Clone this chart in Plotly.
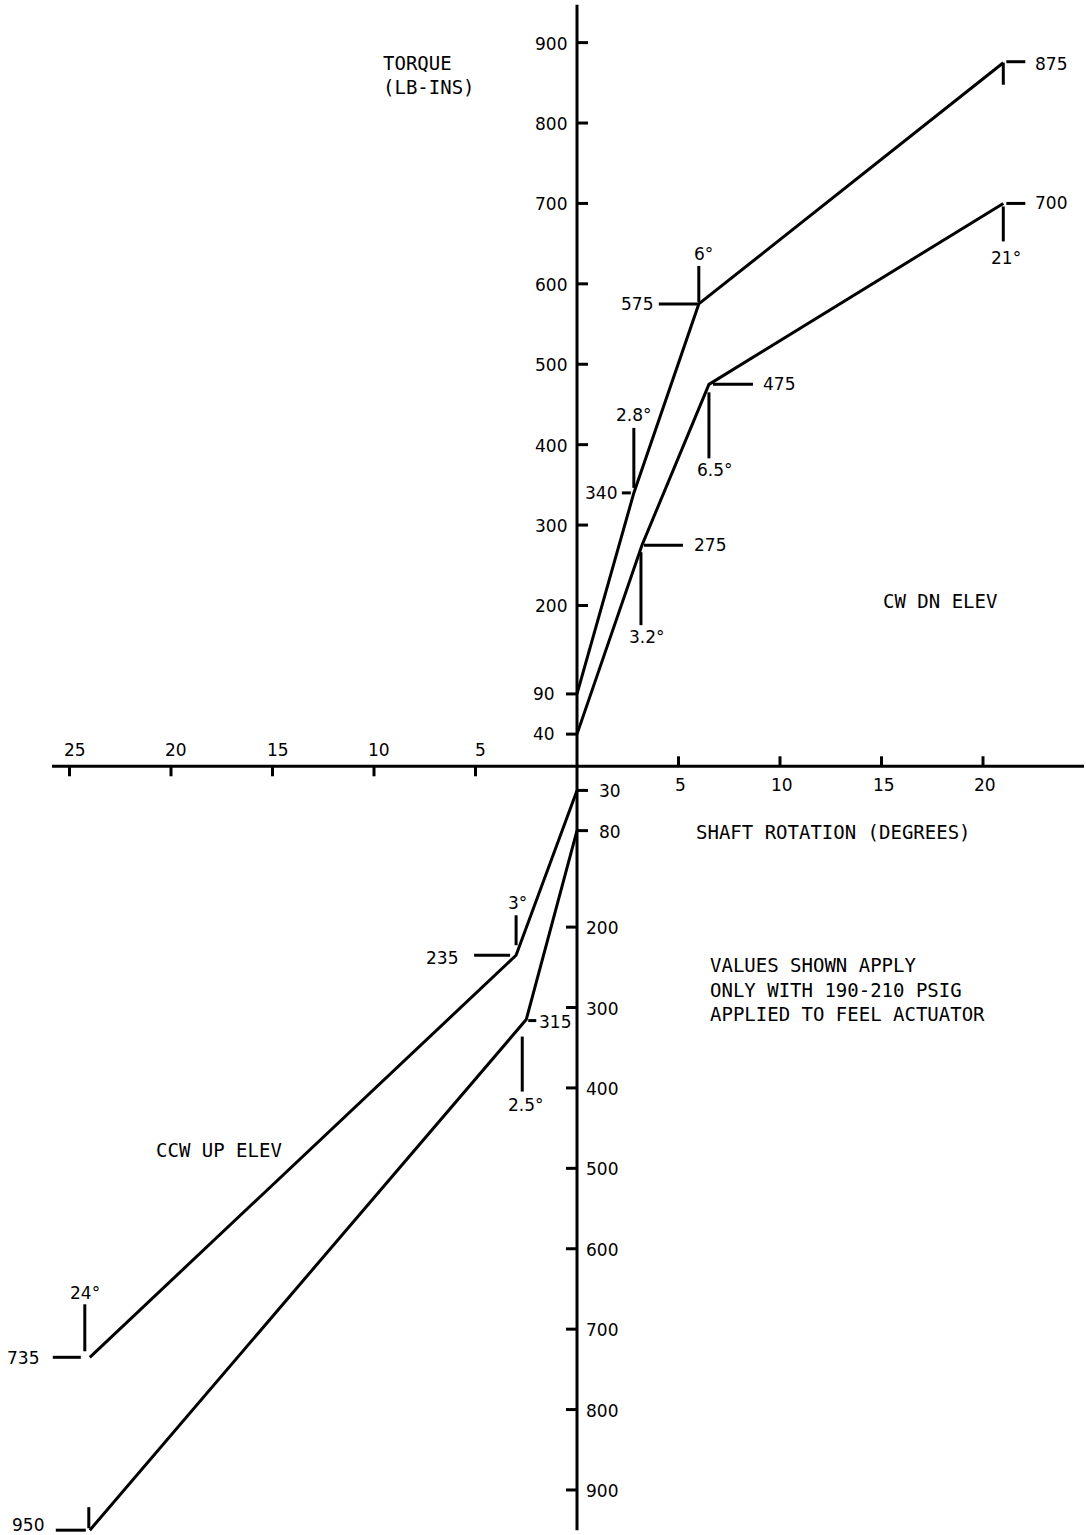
import plotly.graph_objects as go

# ---------------- data ----------------
# CW DN ELEV (upper right quadrant)
cw_a_deg = [0, 2.8, 6, 21]
cw_a_torque = [90, 340, 575, 875]
cw_b_deg = [0, 3.2, 6.5, 21]
cw_b_torque = [40, 275, 475, 700]
# CCW UP ELEV (lower left quadrant) - magnitudes
ccw_a_deg = [0, 3, 24]
ccw_a_torque = [30, 235, 735]
ccw_b_deg = [0, 2.5, 24]
ccw_b_torque = [80, 315, 950]

# tick values
x_ticks_left = [25, 20, 15, 10, 5]
x_ticks_right = [5, 10, 15, 20]
y_ticks_up_right = [900, 800, 700, 600, 500, 400, 300, 200]
y_ticks_up_left = [90, 40]
y_ticks_dn_right = [30, 80]
y_ticks_dn_left = [200, 300, 400, 500, 600, 700, 800, 900]

# ---------------- styling ----------------
W, H = 1086, 1535
XR = [-577 / 20.3, (W - 577) / 20.3]
YR = [-956, 953]
BLACK = "black"
LW = 3
NUM_FONT = dict(family="DejaVu Sans", size=17, color=BLACK)
TXT_FONT = dict(family="DejaVu Sans Mono", size=19, color=BLACK)

fig = go.Figure()

series = [
    (cw_a_deg, cw_a_torque, 1, 1),
    (cw_b_deg, cw_b_torque, 1, 1),
    (ccw_a_deg, ccw_a_torque, -1, -1),
    (ccw_b_deg, ccw_b_torque, -1, -1),
]
for xs, ys, sx, sy in series:
    fig.add_trace(go.Scatter(
        x=[sx * v for v in xs], y=[sy * v for v in ys], mode="lines",
        line=dict(color=BLACK, width=LW), hoverinfo="skip", showlegend=False))

shapes = []
annotations = []

def pline(xd, yd, dx0, dx1, dy0, dy1):
    shapes.append(dict(type="line", xref="x", yref="y", xsizemode="pixel", ysizemode="pixel",
                       xanchor=xd, yanchor=yd, x0=dx0, x1=dx1, y0=-dy0, y1=-dy1,
                       line=dict(color=BLACK, width=LW)))

def ptext(xd, yd, text, anchor, dx, dy, font=NUM_FONT):
    annotations.append(dict(x=xd, y=yd, xref="x", yref="y", text=text, showarrow=False,
                            xanchor=anchor, yanchor="middle", xshift=dx, yshift=-dy, font=font))

# axes
shapes.append(dict(type="line", xref="x", yref="y", x0=0, x1=0, y0=-950, y1=947,
                   line=dict(color=BLACK, width=LW)))
shapes.append(dict(type="line", xref="x", yref="y", x0=-25.86, x1=XR[1] - 0.1, y0=0, y1=0,
                   line=dict(color=BLACK, width=LW)))

# x ticks
for t in x_ticks_left:
    pline(-t, 0, 0, 0, 0, 10)
    ptext(-t, 0, str(t), "center", 5, -16)
for t in x_ticks_right:
    pline(t, 0, 0, 0, -10, 0)
    ptext(t, 0, str(t), "center", 2, 19)

# y ticks
for t in y_ticks_up_right:
    pline(0, t, 0, 11, 0, 0)
    ptext(0, t, str(t), "right", -8, 1)
for t in y_ticks_up_left:
    pline(0, t, -11, 0, 0, 0)
    ptext(0, t, str(t), "right", -20, 0)
for t in y_ticks_dn_right:
    pline(0, -t, 0, 11, 0, 0)
    ptext(0, -t, str(t), "left", 20, 1)
for t in y_ticks_dn_left:
    pline(0, -t, -11, 0, 0, 0)
    ptext(0, -t, str(t), "left", 7, 1)

# point callouts: (series index, point index, h-leader, v-leader, value label, degree label)
callouts = [
    (0, 1, (-12, -3, 0), (0, -65, -5), ("right", -15, 0), (0, -78)),
    (0, 2, (-40, 0, 0), (0, -38, -2), ("right", -44, 0), (5, -50)),
    (0, 3, (3, 22, -1), (0, 0, 22), ("left", 30, 1), None),
    (1, 1, (2, 41, 0), (-1, 7, 80), ("left", 50, 0), (5, 92)),
    (1, 2, (4, 44, 0), (0, 8, 74), ("left", 52, 0), (6, 86)),
    (1, 3, (3, 22, 0), (0, 3, 38), ("left", 30, 0), (3, 55)),
    (2, 1, (-42, -6, 0), (0, -40, -10), ("right", -56, 3), (1, -52)),
    (2, 2, (-37, -9, 0), (-5, -53, -6), ("right", -49, 1), (-5, -64)),
    (3, 1, (2, 10, 1), (-4, 17, 72), ("left", 11, 2), (0, 85)),
    (3, 2, (-34, -4, 0), (-1, -23, -2), ("right", -44, -5), None),
]
for si, pi, hl, vl, vlab, dlab in callouts:
    xs, ys, sx, sy = series[si]
    xd, yd = sx * xs[pi], sy * ys[pi]
    pline(xd, yd, hl[0], hl[1], hl[2], hl[2])
    pline(xd, yd, vl[0], vl[0], vl[1], vl[2])
    ptext(xd, yd, str(ys[pi]), vlab[0], vlab[1], vlab[2])
    if dlab is not None:
        ptext(xd, yd, f"{xs[pi]:g}°", "center", dlab[0], dlab[1])

def paper_text(px, py, text, anchor="left"):
    annotations.append(dict(x=px / W, y=1 - py / H, xref="paper", yref="paper", text=text,
                            showarrow=False, xanchor=anchor, yanchor="middle", align="left",
                            font=TXT_FONT))

paper_text(381, 63, "TORQUE")
paper_text(381, 87, "(LB-INS)")
paper_text(694, 832, "SHAFT ROTATION (DEGREES)")
paper_text(881, 601, "CW DN ELEV")
paper_text(154, 1150, "CCW UP ELEV")
paper_text(708, 989, "VALUES SHOWN APPLY<br>ONLY WITH 190-210 PSIG<br>APPLIED TO FEEL ACTUATOR")

fig.update_layout(
    width=W, height=H, margin=dict(l=0, r=0, t=0, b=0),
    paper_bgcolor="white", plot_bgcolor="white",
    xaxis=dict(range=XR, visible=False, fixedrange=True),
    yaxis=dict(range=YR, visible=False, fixedrange=True),
    shapes=shapes, annotations=annotations, showlegend=False, hovermode=False,
)

fig.write_html("out.html", config={"displayModeBar": False},
               post_script="document.body.style.margin='0';document.body.style.overflow='hidden';")
